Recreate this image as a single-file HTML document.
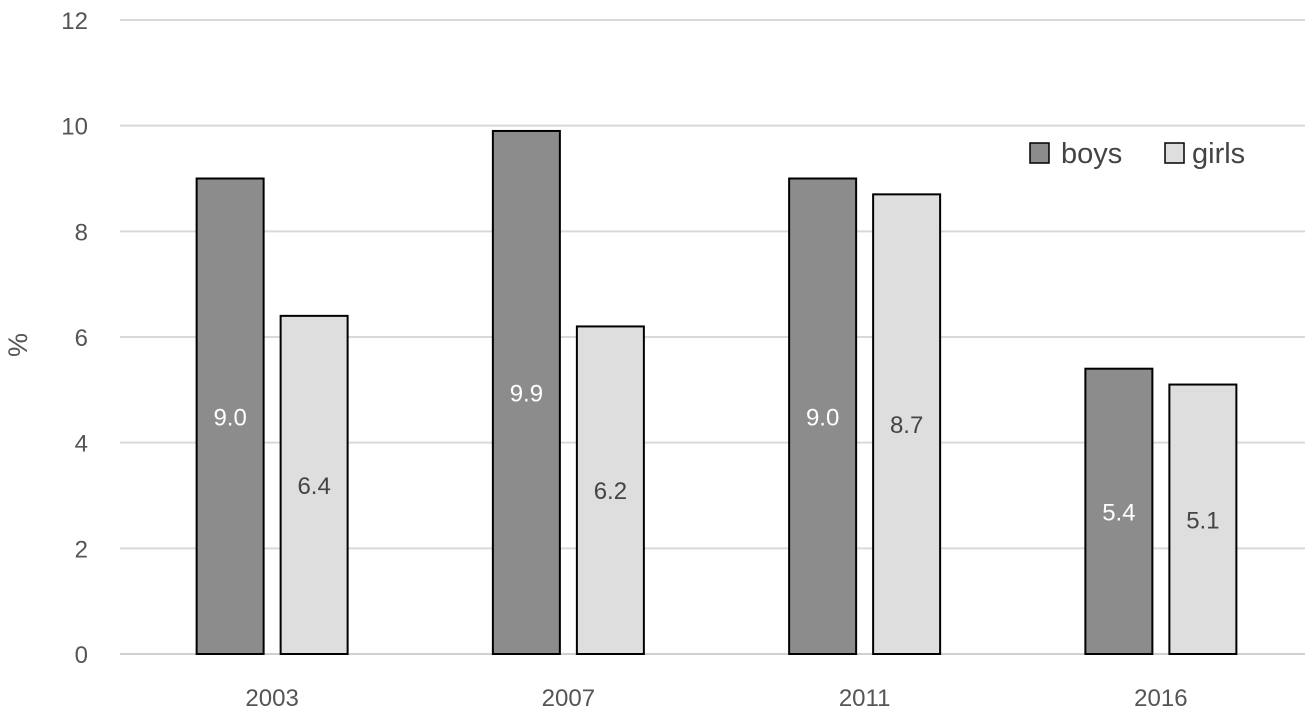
<!DOCTYPE html>
<html><head><meta charset="utf-8"><style>
body{margin:0;background:#fff;}
svg text{font-family:"Liberation Sans",sans-serif;}
</style></head><body>
<svg id="chart" width="1315" height="712" xmlns="http://www.w3.org/2000/svg">
<g id="grid"></g><g id="bars"></g>
<g>
<rect x="1030" y="143" width="19" height="20" fill="#8c8c8c" stroke="#000" stroke-width="1.5"/>
<text x="1061" y="163" font-size="29" fill="#444">boys</text>
<rect x="1165" y="143" width="19" height="20" fill="#dedede" stroke="#000" stroke-width="1.5"/>
<text x="1192" y="163" font-size="29" fill="#444">girls</text>
</g>
<text transform="translate(27,345) rotate(-90)" text-anchor="middle" font-size="27" fill="#555">%</text>
</svg>
<script>
const categories=["2003","2007","2011","2016"];
const boys=[9.0,9.9,9.0,5.4];
const girls=[6.4,6.2,8.7,5.1];
const yTicks=[0,2,4,6,8,10,12];
const NS="http://www.w3.org/2000/svg";
const x0=120,x1=1305,yb=654,yt=20,ymax=12;
const y=v=>yb-(yb-yt)*v/ymax;
const band=(x1-x0)/categories.length;
const cx=i=>x0+band*(i+0.5)+4;
const bw=67,gap=17;
function el(t,a,p){const e=document.createElementNS(NS,t);for(const k in a)e.setAttribute(k,a[k]);p.appendChild(e);return e;}
const grid=document.getElementById('grid'),bars=document.getElementById('bars');
yTicks.forEach(v=>{
 const l=el('line',{x1:x0,x2:x1,y1:y(v),y2:y(v),stroke:v===0?'#d0d0d0':'#d9d9d9','stroke-width':2},grid);
 
 
 const t=el('text',{x:88,y:y(v)+9,'text-anchor':'end','font-size':24,fill:'#555'},grid);
 t.textContent=v;
 
 
});
categories.forEach((c,i)=>{
 const t=el('text',{x:cx(i),y:706,'text-anchor':'middle','font-size':24,fill:'#555'},grid);
 t.textContent=c;
 
 
 [[boys[i],'#8c8c8c','#fff',-1,'boys'],[girls[i],'#dedede','#444',1,'girls']].forEach(([v,f,tc,s,n])=>{
  const bx=s<0?cx(i)-gap/2-bw:cx(i)+gap/2;
  const r=el('rect',{x:bx,y:y(v),width:bw,height:yb-y(v),fill:f,stroke:'#000','stroke-width':2},bars);
  
  
  const lb=el('text',{x:bx+bw/2,y:(y(v)+yb)/2+9,'text-anchor':'middle','font-size':24,fill:tc},bars);
  lb.textContent=v.toFixed(1);
  
  
 });
});
</script>
</body></html>
